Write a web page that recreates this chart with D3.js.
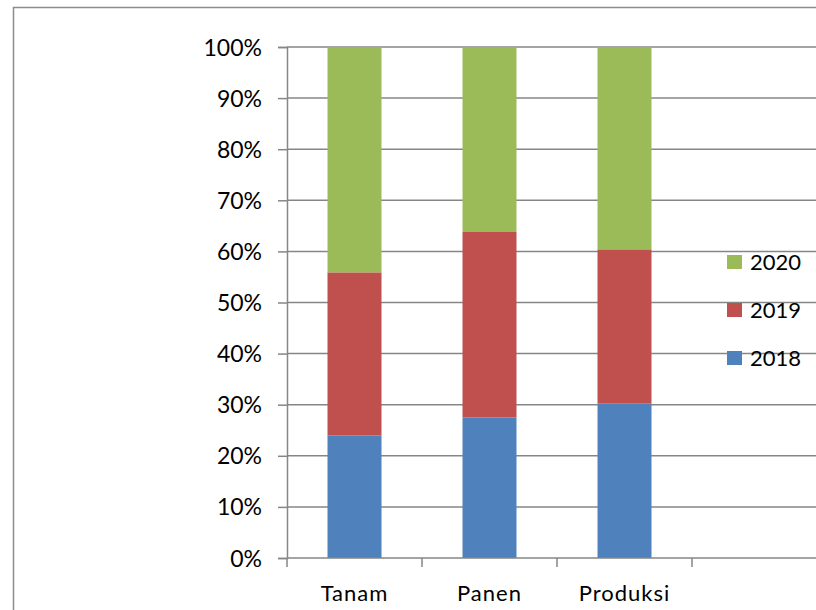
<!DOCTYPE html>
<html>
<head>
<meta charset="utf-8">
<script src="https://cdn.jsdelivr.net/npm/d3@7"></script>
<style>
  body { margin: 0; background: #fff; }
  svg text { font-family: Lato, "Open Sans", sans-serif; fill: #000; }
</style>
</head>
<body>
<svg id="chart" width="816" height="610"></svg>
<script>
// categories and the share (%) each year takes of the 100% bar
const categories = ['Tanam', 'Panen', 'Produksi'];
const years = ['2018', '2019', '2020'];
const share2018 = [24.0, 27.5, 30.2];
const share2019 = [31.9, 36.3, 30.2];
const share2020 = [44.1, 36.2, 39.6];
const yTicks = [0, 10, 20, 30, 40, 50, 60, 70, 80, 90, 100];
const colors = ['#4f81bd', '#c0504d', '#9bbb59'];

const rows = categories.map((c, i) => ({
    cat: c, '2018': share2018[i], '2019': share2019[i], '2020': share2020[i]
}));
const stacked = d3.stack().keys(years)(rows);

const svg = d3.select('#chart');
const plotLeft = 287, plotRight = 692, plotTop = 47, plotBottom = 558;

// outer chart border (cut off at right/bottom)
svg.append('path')
    .attr('d', `M13.5,610 V7.5 H816`)
    .attr('fill', 'none')
    .attr('stroke', '#8c8c8c')
    .attr('stroke-width', 1.5);

const x = d3.scaleBand().domain(categories).range([plotLeft, plotRight]).paddingInner(0.6).paddingOuter(0.3);
const y = d3.scaleLinear().domain([0, 100]).range([plotBottom, plotTop]);

// gridlines
svg.append('g')
    .selectAll('line')
    .data(yTicks.filter(t => t > 0))
    .join('line')
    .attr('x1', plotLeft).attr('x2', 816)
    .attr('y1', d => y(d)).attr('y2', d => y(d))
    .attr('stroke', '#868686')
    .attr('stroke-width', 1.5);

// bars
svg.append('g')
    .selectAll('g')
    .data(stacked)
    .join('g')
    .attr('fill', (d, i) => colors[i])
    .selectAll('rect')
    .data(d => d)
    .join('rect')
    .attr('x', d => x(d.data.cat))
    .attr('width', x.bandwidth())
    .attr('y', d => y(d[1]))
    .attr('height', d => y(d[0]) - y(d[1]));

// y axis
const yAxis = svg.append('g')
    .attr('transform', `translate(${plotLeft},0)`)
    .call(d3.axisLeft(y).tickValues(yTicks).tickFormat(d => d + '%').tickSize(9).tickPadding(16));
yAxis.select('.domain').attr('stroke', '#868686').attr('stroke-width', 1.5);
yAxis.selectAll('.tick line').attr('stroke', '#868686').attr('stroke-width', 1.5);
yAxis.selectAll('text').style('font-size', '23px').attr('dy', '0.35em');

// x axis
svg.append('line')
    .attr('x1', plotLeft).attr('x2', 816)
    .attr('y1', plotBottom).attr('y2', plotBottom)
    .attr('stroke', '#868686').attr('stroke-width', 1.5);
svg.append('g')
    .selectAll('line')
    .data(d3.range(categories.length + 1))
    .join('line')
    .attr('x1', i => plotLeft + i * x.step())
    .attr('x2', i => plotLeft + i * x.step())
    .attr('y1', plotBottom).attr('y2', plotBottom + 9)
    .attr('stroke', '#868686').attr('stroke-width', 1.5);
svg.append('g')
    .selectAll('text')
    .data(categories)
    .join('text')
    .attr('x', d => x(d) + x.bandwidth() / 2)
    .attr('y', 601)
    .attr('text-anchor', 'middle')
    .style('font-size', '22px')
    .style('letter-spacing', '1px')
    .text(d => d);

// legend (2020 on top)
const legend = svg.append('g')
    .selectAll('g')
    .data(years.slice().reverse())
    .join('g')
    .attr('transform', (d, i) => `translate(727,${255 + i * 48})`);
legend.append('rect')
    .attr('width', 15).attr('height', 14)
    .attr('fill', d => colors[years.indexOf(d)]);
legend.append('text')
    .attr('x', 23).attr('y', 7).attr('dy', '0.35em')
    .style('font-size', '22px')
    .text(d => d);
</script>
</body>
</html>
